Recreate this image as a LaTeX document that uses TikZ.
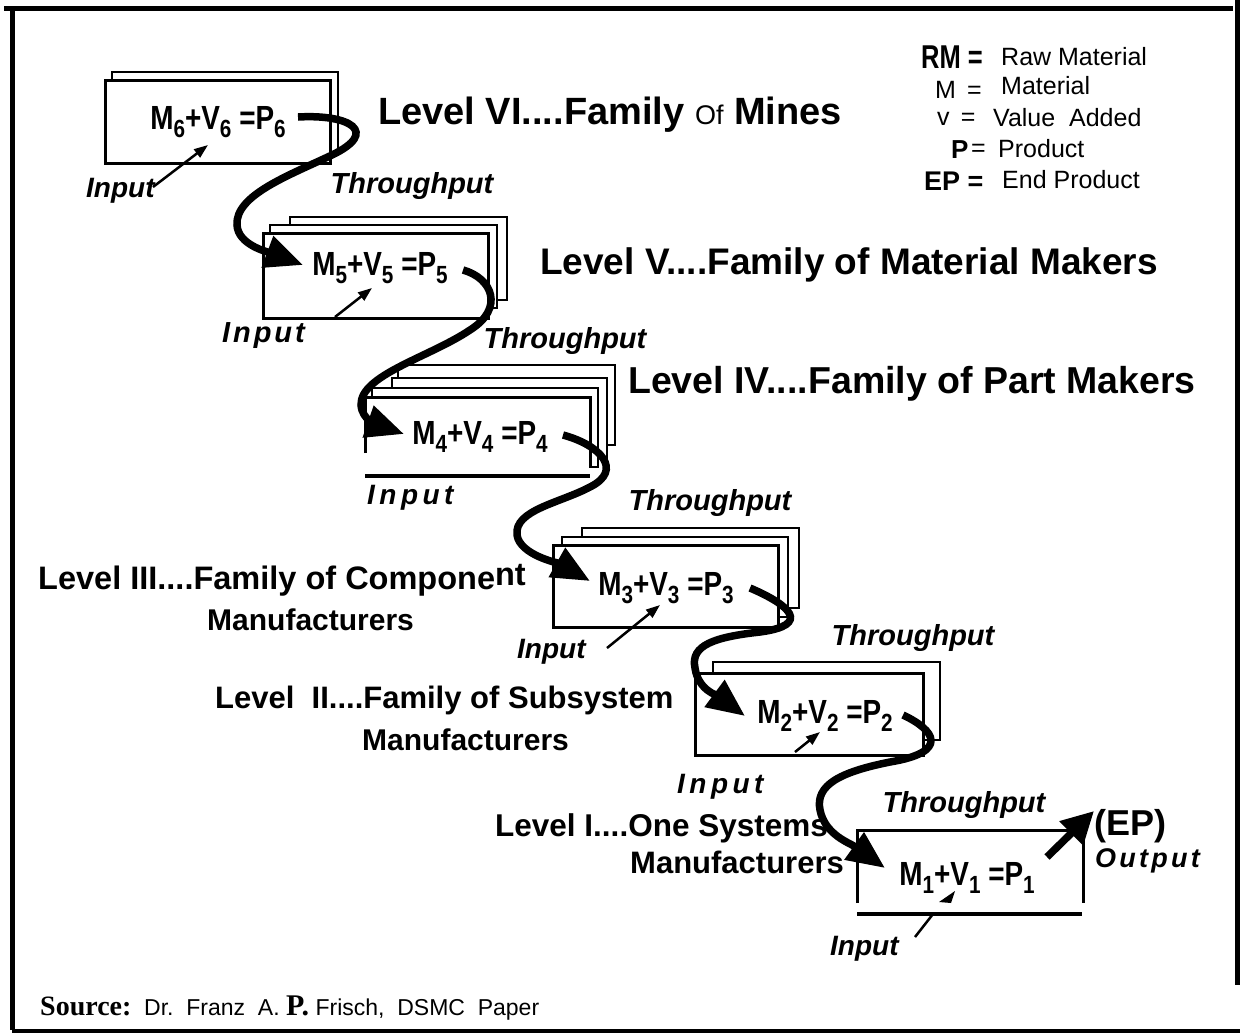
\documentclass[tikz,border=0pt]{standalone}
\usepackage{fontspec}
\setmainfont{Liberation Sans}
\newfontfamily\tnr{Liberation Serif}
\usetikzlibrary{arrows.meta}
\newcommand{\sbs}[1]{\raisebox{-0.25em}{\fontsize{23}{23}\selectfont #1}}
\newcommand{\eqn}[1]{\scalebox{0.9}[1.08]{M\sbs{#1}+V\sbs{#1} =P\sbs{#1}}}
\tikzset{
  frame/.style={line width=5pt},
  box/.style={draw, line width=3pt, fill=white},
  backbox/.style={draw, line width=2.5pt, fill=white},
  eqtext/.style={font=\fontsize{31}{33}\selectfont\bfseries, inner sep=0pt},
  lvlbig/.style={font=\fontsize{37}{40}\selectfont\bfseries, anchor=west, inner sep=0pt},
  lvlsmall/.style={font=\fontsize{31}{34}\selectfont\bfseries, anchor=west, inner sep=0pt},
  thr/.style={font=\fontsize{29}{32}\selectfont\bfseries\itshape, inner sep=0pt},
  inp/.style={font=\fontsize{28}{30}\selectfont\bfseries\itshape, anchor=west, inner sep=0pt},
  inpsp/.style={font=\fontsize{28}{30}\selectfont\bfseries\itshape\addfontfeature{LetterSpace=16}, anchor=west, inner sep=0pt},
  flow/.style={line width=7.5pt, -{Triangle[length=38pt,width=32pt]}},
  inarrow/.style={line width=2.5pt, -{Triangle[length=14pt,width=10pt]}},
  leg/.style={font=\fontsize{25}{28}\selectfont, anchor=west, inner sep=0pt},
  legb/.style={font=\fontsize{30}{32}\selectfont\bfseries, anchor=west, inner sep=0pt}
}
\begin{document}
\begin{tikzpicture}[x=1pt,y=-1pt]
\useasboundingbox (0,0) rectangle (1241,1034);
% frame
\draw[frame] (4,8) -- (1233,8);
\draw[frame] (12,8) -- (12,1030);
\draw[frame] (1237,0) -- (1237,985);
\draw[line width=4pt] (12,1031) -- (1240,1031);

% legend
\node[legb] (rm) at (921,57) {\scalebox{0.85}[1.1]{RM =}};
\node[leg] (rmd) at (1001,57) {Raw Material};
\node[leg] (m) at (935,90) {M \,=};
\node[leg] (md) at (1001,86) {Material};
\node[leg] (v) at (937,119) {v \,=};
\node[leg] (vd) at (993,118) {Value\ \ Added};
\node[legb, font=\fontsize{26}{28}\selectfont\bfseries] (p) at (951,150) {P};
\node[leg] (pe) at (971,150) {=};
\node[leg] (pd) at (998,149) {Product};
\node[legb, font=\fontsize{27}{28}\selectfont\bfseries] (ep) at (924,181) {EP =};
\node[leg] (epd) at (1002,180) {End Product};

% boxes level VI
\draw[backbox] (112,72) rectangle (338,155);
\draw[box] (105,80) rectangle (330,163);
% level V
\draw[backbox] (290,217) rectangle (507,300);
\draw[backbox] (270,225) rectangle (497,308);
\draw[box] (263,233) rectangle (488,318);
% level IV
\draw[backbox] (398,365) rectangle (615,445);
\draw[backbox] (392,378) rectangle (607,458);
\draw[backbox] (372,388) rectangle (598,467);
\fill[white] (365,397) rectangle (590,475);
\draw[line width=3pt] (365,453) -- (365,397) -- (590,397) -- (590,468);
\draw[line width=3.5pt] (365,476) -- (590,476);
% level III
\draw[backbox] (582,528) rectangle (799,608);
\draw[backbox] (562,537) rectangle (788,617);
\draw[box] (553,545) rectangle (778,627);
% level II
\draw[backbox] (713,662) rectangle (940,740);
\draw[box] (695,673) rectangle (923,755);
% level I
\draw[line width=3pt] (857,903) -- (857,830) -- (1083,830) -- (1083,903);
\draw[line width=3.5pt] (857,914) -- (1082,914);

% equations
\node[eqtext] (e6) at (218,122) {\eqn{6}};
\node[eqtext] (e5) at (380,268) {\eqn{5}};
\node[eqtext] (e4) at (480,437) {\eqn{4}};
\node[eqtext] (e3) at (666,588) {\eqn{3}};
\node[eqtext] (e2) at (825,716) {\eqn{2}};
\node[eqtext] (e1) at (967,878) {\eqn{1}};

% level labels
\node[lvlbig, font=\fontsize{38}{40}\selectfont\bfseries] (l6) at (378,115) {Level VI....Family {\mdseries\fontsize{27}{30}\selectfont Of} Mines};
\node[lvlbig] (l5) at (540,265) {Level V....Family of Material Makers};
\node[lvlbig, font=\fontsize{37.5}{40}\selectfont\bfseries] (l4) at (628,384) {Level IV....Family of Part Makers};
\node[lvlsmall, font=\fontsize{32.5}{34}\selectfont\bfseries] (l3) at (38,580) {Level III....Family of Compone\raisebox{4pt}{nt}};
\node[lvlsmall, font=\fontsize{30}{34}\selectfont\bfseries] (l3b) at (207,620) {Manufacturers};
\node[lvlsmall] (l2) at (215,700) {Level\ \ II....Family of Subsystem};
\node[lvlsmall, font=\fontsize{30}{34}\selectfont\bfseries] (l2b) at (362,740) {Manufacturers};
\node[lvlsmall, font=\fontsize{31.5}{35}\selectfont\bfseries] (l1) at (495,828) {Level I....One Systems};
\node[lvlsmall] (l1b) at (630,862) {Manufacturers};

% throughput labels
\node[thr] (t65) at (412,186) {Throughput};
\node[thr] (t54) at (565,341) {Throughput};
\node[thr] (t43) at (710,503) {Throughput};
\node[thr] (t32) at (913,638) {Throughput};
\node[thr] (t21) at (964,805) {Throughput};

% input labels
\node[inp] (i6) at (86,191) {Input};
\node[inpsp, font=\fontsize{29}{30}\selectfont\bfseries\itshape\addfontfeature{LetterSpace=10}] (i5) at (222,336) {Input};
\node[inpsp] (i4) at (367,498) {Input};
\node[inp] (i3) at (517,652) {Input};
\node[inpsp] (i2) at (677,787) {Input};
\node[inp] (i1) at (830,949) {Input};

% output
\node[font=\fontsize{36}{38}\selectfont\bfseries, anchor=west, inner sep=0pt] (epl) at (1094,826) {(EP)};
\node[font=\fontsize{27}{30}\selectfont\bfseries\itshape\addfontfeature{LetterSpace=12}, anchor=west, inner sep=0pt] (out) at (1095,861) {Output};

% input arrows
\coordinate (a6s) at (153,187); \coordinate (a6e) at (208,145);
\draw[inarrow] (a6s) -- (a6e);
\coordinate (a5s) at (335,317); \coordinate (a5e) at (372,288);
\draw[inarrow] (a5s) -- (a5e);
\coordinate (a3s) at (607,648); \coordinate (a3e) at (660,605);
\draw[inarrow] (a3s) -- (a3e);
\coordinate (a2s) at (795,752); \coordinate (a2e) at (820,732);
\draw[inarrow] (a2s) -- (a2e);
\coordinate (a1s) at (915,937); \coordinate (a1e) at (933,914);
\draw[line width=2.5pt] (a1s) -- (a1e);
\fill (939,902) -- (955,891) -- (951,903) -- cycle;

% throughput curves
\coordinate (c6) at (298,117);
\coordinate (c5in) at (303,265);
\draw[flow] (c6) .. controls (350,114) and (380,132) .. (332,155)
  .. controls (290,175) and (235,195) .. (237,225)
  .. controls (238,245) and (268,252) .. (c5in);
\coordinate (c5) at (463,270);
\coordinate (c4in) at (404,434);
\draw[flow] (c5) .. controls (492,278) and (505,308) .. (470,330)
  .. controls (430,357) and (360,375) .. (361,405)
  .. controls (362,420) and (378,425) .. (c4in);
\coordinate (c4) at (563,435);
\coordinate (c3in) at (590,581);
\draw[flow] (c4) .. controls (600,445) and (624,470) .. (590,487)
  .. controls (560,503) and (514,510) .. (517,535)
  .. controls (520,555) and (558,563) .. (c3in);
\coordinate (c3) at (750,588);
\coordinate (c2in) at (745,716);
\draw[flow] (c3) .. controls (790,605) and (812,625) .. (760,632)
  .. controls (715,637) and (690,645) .. (695,668)
  .. controls (698,690) and (718,696) .. (c2in);
\coordinate (c2) at (903,715);
\coordinate (c1in) at (885,868);
\draw[flow] (c2) .. controls (935,730) and (950,752) .. (890,762)
  .. controls (840,772) and (815,785) .. (820,810)
  .. controls (825,835) and (850,843) .. (c1in);
\coordinate (c1) at (1047,857);
\coordinate (cout) at (1094,811);
\draw[flow, -{Triangle[length=32pt,width=32pt]}] (c1) -- (cout);

% source
\node[anchor=west, inner sep=0pt, font=\fontsize{23}{26}\selectfont] (src) at (40,1008)
  {{\tnr\bfseries\fontsize{28}{30}\selectfont Source:}\ \ Dr.\ \ Franz\ \ A.\ {\tnr\bfseries\fontsize{30}{30}\selectfont P.}\ Frisch,\ \ DSMC\ \ Paper};
\end{tikzpicture}
\end{document}
